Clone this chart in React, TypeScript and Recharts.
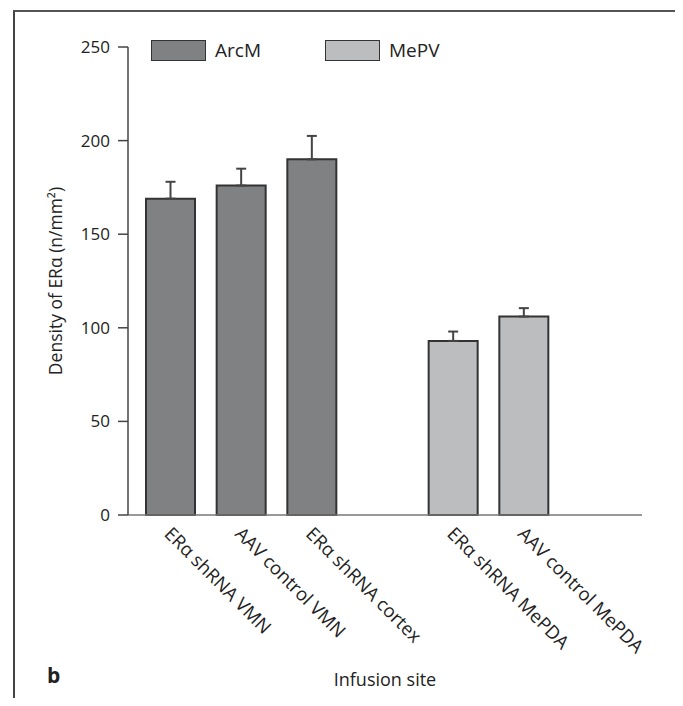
import React from "react";
import { BarChart, Bar, XAxis, YAxis, ErrorBar, Cell, Legend } from "recharts";

// blank entry keeps the gap between the ArcM and MePV groups
const sites = ["ERα shRNA VMN", "AAV control VMN", "ERα shRNA cortex", "", "ERα shRNA MePDA", "AAV control MePDA"];
const region = ["ArcM", "ArcM", "ArcM", "", "MePV", "MePV"];
const density = [169, 176, 190, null, 93, 106];
const sem = [9, 9, 12.5, null, 5, 4.5];
const yTicks = [0, 50, 100, 150, 200, 250];
const regions = ["ArcM", "MePV"];

const colors: Record<string, string> = { ArcM: "#808183", MePV: "#bcbdbf" };
const font = "'Open Sans', sans-serif";

const data = sites.map((s, i) => ({
  site: s,
  region: region[i],
  density: density[i],
  err: sem[i] == null ? null : [0, sem[i]],
}));

function SiteTick(props: any) {
  const { x, y, payload } = props;
  if (!payload.value) return null;
  return (
    <text
      x={x - 7}
      y={y + 20}
      transform={`rotate(45, ${x - 7}, ${y + 20})`}
      textAnchor="start"
      fontSize={18.5}
      fontFamily={font}
      fill="#222"
    >
      {payload.value}
    </text>
  );
}

function RegionLegend() {
  return (
    <div style={{ display: "flex", fontFamily: font, fontSize: 19, color: "#222" }}>
      {regions.map((r) => (
        <div key={r} style={{ display: "flex", alignItems: "center", width: 174 }}>
          <div style={{ width: 53, height: 19, background: colors[r], border: "1.5px solid #333" }} />
          <span style={{ marginLeft: 9 }}>{r}</span>
        </div>
      ))}
    </div>
  );
}

export default function App() {
  return (
    <div style={{ position: "relative", margin: -8, width: 683, height: 706, overflow: "hidden" }}>
      <BarChart width={683} height={706} data={data} margin={{ top: 47, right: 41, left: 0, bottom: 0 }}>
        <XAxis
          dataKey="site"
          height={191}
          padding={{ left: 7, right: 83 }}
          axisLine={{ stroke: "#777", strokeWidth: 1.5 }}
          tickLine={false}
          tickSize={0}
          tickMargin={0}
          interval={0}
          tick={<SiteTick />}
          label={{ value: "Infusion site", position: "insideBottom", offset: 20, fontSize: 18, fontFamily: font, fill: "#222" }}
        />
        <YAxis
          width={128}
          domain={[0, 250]}
          ticks={yTicks}
          tickSize={10}
          tickMargin={8}
          axisLine={{ stroke: "#444", strokeWidth: 1.5 }}
          tickLine={{ stroke: "#444", strokeWidth: 1.5 }}
          tick={{ fontSize: 17, fontFamily: font, fill: "#222" }}
          label={{ value: "Density of ERα (n/mm²)", angle: -90, position: "center", dx: -8, fontSize: 17.5, fontFamily: font, fill: "#222" }}
        />
        <Legend
          layout="horizontal"
          verticalAlign="middle"
          align="center"
          content={<RegionLegend />}
          wrapperStyle={{ position: "absolute", top: 37, left: 151, width: 400, height: 22 }}
        />
        <Bar dataKey="density" barSize={49} stroke="#333" strokeWidth={2} isAnimationActive={false}>
          {data.map((d, i) => (
            <Cell key={i} fill={colors[d.region] || "none"} />
          ))}
          <ErrorBar dataKey="err" width={5} stroke="#444" strokeWidth={2} direction="y" />
        </Bar>
      </BarChart>
      <div style={{ position: "absolute", left: 47, top: 661, fontFamily: font, fontWeight: 700, fontSize: 21, color: "#222" }}>
        b
      </div>
      <div
        style={{
          position: "absolute", left: 13, top: 10, width: 661, height: 720, zIndex: 5, pointerEvents: "none",
          borderLeft: "2px solid #444", borderTop: "2px solid #555", borderRight: "2px solid #555",
        }}
      />
    </div>
  );
}
